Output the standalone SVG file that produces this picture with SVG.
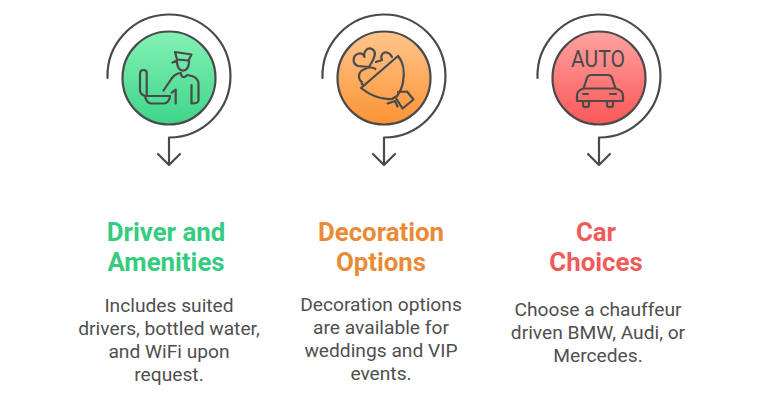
<svg xmlns="http://www.w3.org/2000/svg" width="768" height="402" viewBox="0 0 768 402">
<style>
.s{fill:none;stroke:#4a4a4a;stroke-linecap:round;stroke-linejoin:round}
.c{stroke-width:2.200}
.i{stroke-width:2.200}
.h{font-family:Roboto,sans-serif;font-size:25.800px;font-weight:700;text-anchor:middle}
.b{font-family:Roboto,sans-serif;font-size:19.200px;fill:#4f4f4f;text-anchor:middle}
.a{font-family:Roboto,sans-serif;font-size:24px;fill:#4a4a4a;text-anchor:middle}
</style>
<defs>
<linearGradient id="g" x1="0" y1="0" x2="0" y2="1"><stop offset="0" stop-color="#84f2b4"/><stop offset="1" stop-color="#3dd588"/></linearGradient>
<linearGradient id="o" x1="0" y1="0" x2="0" y2="1"><stop offset="0" stop-color="#ffc58c"/><stop offset="1" stop-color="#fb9335"/></linearGradient>
<linearGradient id="r" x1="0" y1="0" x2="0" y2="1"><stop offset="0" stop-color="#ffa3a0"/><stop offset="1" stop-color="#fb5757"/></linearGradient>
</defs>
<g id="connectors">
<path class="s c" d="M107.500 78A61.500 61.500 0 1 1 169 137.500V165M158 154L169 165L180 154"/>
<path class="s c" d="M322.500 78A61.500 61.500 0 1 1 384 137.500V165M373 154L384 165L395 154"/>
<path class="s c" d="M537.500 78A61.500 61.500 0 1 1 599 137.500V165M588 154L599 165L610 154"/>
</g>
<g id="node-driver">
<circle cx="169" cy="78" r="46.500" fill="url(#g)" stroke="#4a4a4a" stroke-width="2.200"/>
<path class="s i" d="M175 52L191.500 54.500L188.500 60.500L177 59.500ZM172.500 62.500L177 60.500M177 60.500C176 74 190 74 189 60.500M163.500 90.500L172 78C173.500 76 175 74.500 178 73.500L181 73C181 78 185 78 187 75L192 76C196.500 77.500 198.500 80 198.500 84V100C198.500 102.500 197 103.500 191.500 103.500V85M175.700 103.500V89.500L171.700 92.700"/>
<path class="s i" d="M140 74C140 71 141.500 70 143.500 70C145.500 70 146.700 71 146.700 73V95M140 74V90C140 93 142 95 145 96H170C170 100 167 103.500 164 103.500H151C148 103.500 145.500 100 145 96"/>
<text class="h" x="166" y="240.500" fill="#35cc80">Driver and</text>
<text class="h" x="166" y="270.500" fill="#35cc80">Amenities</text>
<text class="b" x="169" y="312">Includes suited</text>
<text class="b" x="169" y="335">drivers, bottled water,</text>
<text class="b" x="169" y="358">and WiFi upon</text>
<text class="b" x="169" y="381">request.</text>
</g>
<g id="node-decoration">
<circle cx="384" cy="78" r="46.500" fill="url(#o)" stroke="#4a4a4a" stroke-width="2.200"/>
<path class="s i" d="M361 88L398 56C403 62 405 72 403 82C402 88 400 92 397 96L392 99C381 100 370 95 361 88ZM398 92L407 91.500L413.500 99.500L402.500 108.500L396.500 99M387.700 103.500L395 101L397.500 106.500"/>
<path class="s i" d="M369 67L358 66C352 64 352 55 359 53.500C362 53 364 55 364.500 57C363 51 368 47 372 49C376 51 375 56 373 60ZM375.500 69C373 67 368 67 365 69C362 70 359 72 359 76C359 79 360 81 362 82C361 85 363 85 365 85M376 62C378 61 380 61 382 60C380 55 383 52 387 52.500C389 53 391 55 392 57"/>
<text class="h" x="381" y="240.500" fill="#e98b35">Decoration</text>
<text class="h" x="381" y="270.500" fill="#e98b35">Options</text>
<text class="b" x="381" y="311">Decoration options</text>
<text class="b" x="381" y="334">are available for</text>
<text class="b" x="381" y="357">weddings and VIP</text>
<text class="b" x="381" y="380">events.</text>
</g>
<g id="node-car">
<circle cx="599" cy="78" r="46.500" fill="url(#r)" stroke="#4a4a4a" stroke-width="2.200"/>
<text class="a" x="598" y="66.500" textLength="54" lengthAdjust="spacingAndGlyphs">AUTO</text>
<path class="s i" d="M583.500 88.500L587 78Q588 75 591 75H608Q611 75 612 78L615.500 88.500M583.500 88.500H615.500Q623 90 623 96V101H577V96Q577 90 583.500 88.500ZM583 94H588M610 94H616M583 101V105Q583 107 585 107H587Q589 107 589 105V101M607 101V105Q607 107 609 107H611Q613 107 613 105V101"/>
<text class="h" x="596" y="240.500" fill="#ef5a5a">Car</text>
<text class="h" x="596" y="270.500" fill="#ef5a5a">Choices</text>
<text class="b" x="598" y="316">Choose a chauffeur</text>
<text class="b" x="598" y="339">driven BMW, Audi, or</text>
<text class="b" x="598" y="362">Mercedes.</text>
</g>
</svg>
